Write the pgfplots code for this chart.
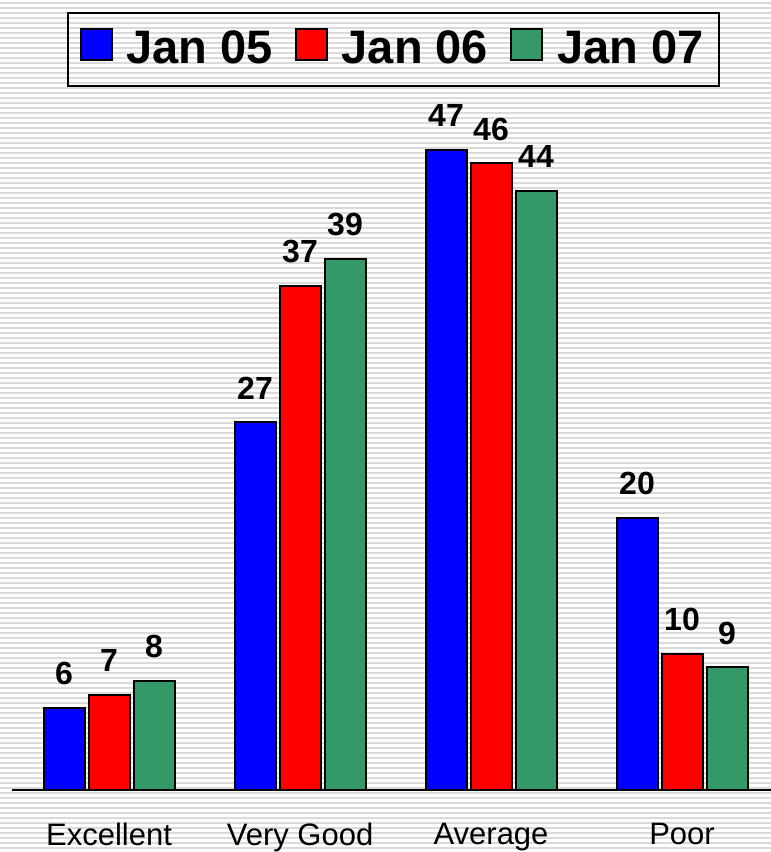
\documentclass[border=0pt]{standalone}
\usepackage{fontspec}
\setmainfont{Liberation Sans}
\usepackage{pgfplots}
\pgfplotsset{compat=1.18}
\definecolor{cblue}{RGB}{0,0,255}
\definecolor{cred}{RGB}{255,0,0}
\definecolor{cgreen}{RGB}{51,153,102}
\definecolor{stripe}{RGB}{218,218,218}
\begin{document}
\begin{tikzpicture}
\useasboundingbox (-6pt,-31pt) rectangle (379.5pt,395pt);
\fill[white] (-6pt,-31pt) rectangle (379.5pt,395pt);
\foreach \i in {0,...,171} {\fill[stripe] (-6pt,{395pt-1.2pt-\i*2.5pt}) rectangle (379.5pt,{395pt-2.2pt-\i*2.5pt});}
\begin{axis}[
  scale only axis, x=95.5pt, y=6.81pt,
  xmin=-0.508, xmax=3.466, ymin=0, ymax=58,
  axis x line=bottom, axis y line=none,
  x axis line style={-, line width=1pt, black},
  ytick=\empty,
  xtick={0,1,2,3}, xticklabels={Excellent,Very Good,Average,Poor},
  major tick length=0pt,
  xticklabel style={font=\fontsize{15.5}{18}\selectfont, inner sep=0pt, anchor=north, yshift=-16.5pt},
  ybar=2pt, bar width=20.5pt,
  every axis plot/.append style={draw=black, line width=1pt},
  nodes near coords={\pgfmathprintnumber[assume math mode=true]{\pgfplotspointmeta}},
  nodes near coords style={font=\bfseries\fontsize{16}{18}\selectfont, inner sep=0pt, anchor=south, yshift=11pt, text=black},
  clip=false,
  legend columns=3,
  legend image code/.code={\draw[#1, draw=black, line width=1pt] (0pt,-5.5pt) rectangle (15.5pt,10pt);},
  legend style={draw=black, line width=1pt, fill=none, at={(0.5026,0.938)}, anchor=center,
    font=\bfseries\fontsize{23.5}{26}\selectfont,
    inner xsep=6pt, inner ysep=7.3pt,
    /tikz/every even column/.append style={column sep=9pt},
    /tikz/every odd column/.append style={column sep=5pt}},
]
\addplot[fill=cblue] coordinates {(0,6) (1,27) (2,47) (3,20)};
\addplot[fill=cred] coordinates {(0,7) (1,37) (2,46) (3,10)};
\addplot[fill=cgreen] coordinates {(0,8) (1,39) (2,44) (3,9)};
\legend{Jan 05, Jan 06, Jan 07}
\end{axis}
\end{tikzpicture}
\end{document}
